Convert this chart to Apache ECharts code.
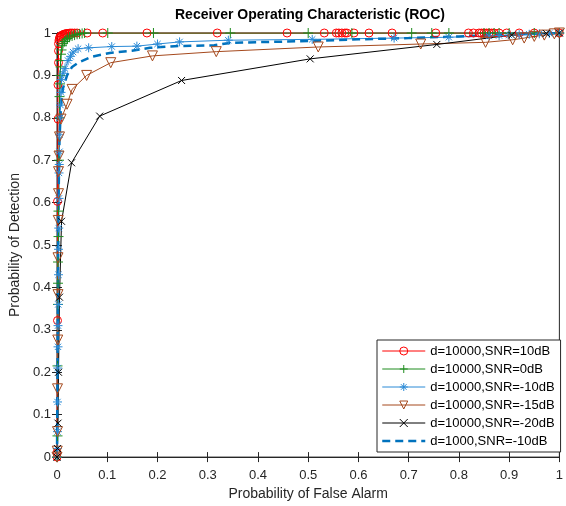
<!DOCTYPE html>
<html>
<head>
<meta charset="utf-8">
<script src="https://cdn.jsdelivr.net/npm/echarts@6/dist/echarts.min.js"></script>
<style>
  html, body { margin: 0; padding: 0; background: #fff; }
  #chart { width: 566px; height: 506px; }
</style>
</head>
<body>
<div id="chart"></div>
<script>
// ROC curves: false alarm prob (x) vs detection prob (y)
const axisTicks = [0, 0.1, 0.2, 0.3, 0.4, 0.5, 0.6, 0.7, 0.8, 0.9, 1]

const snr10Fa = [0, 0, 0.001, 0.001, 0.002, 0.002, 0.003, 0.003, 0.003, 0.004, 0.005, 0.006, 0.008, 0.01, 0.012, 0.014, 0.016, 0.018, 0.02, 0.023, 0.026, 0.03, 0.035, 0.04, 0.06, 0.091, 0.179, 0.319, 0.458, 0.532, 0.556, 0.561, 0.567, 0.573, 0.577, 0.591, 0.621, 0.667, 0.754, 0.819, 0.829, 0.84, 0.845, 0.85, 0.855, 0.86, 0.865, 0.87, 0.88, 0.895, 0.92, 0.95, 1]
const snr10Pd = [0, 0.01, 0.322, 0.603, 0.797, 0.878, 0.93, 0.958, 0.975, 0.983, 0.988, 0.991, 0.993, 0.995, 0.996, 0.997, 0.998, 0.998, 0.999, 0.999, 1, 1, 1, 1, 1, 1, 1, 1, 1, 1, 1, 1, 1, 1, 1, 1, 1, 1, 1, 1, 1, 1, 1, 1, 1, 1, 1, 1, 1, 1, 1, 1, 1]

const snr0Fa = [0, 0.001, 0.001, 0.002, 0.002, 0.002, 0.003, 0.003, 0.004, 0.005, 0.005, 0.006, 0.006, 0.007, 0.007, 0.008, 0.009, 0.01, 0.012, 0.015, 0.018, 0.021, 0.025, 0.03, 0.035, 0.04, 0.045, 0.05, 0.055, 0.101, 0.192, 0.345, 0.5, 0.587, 0.706, 0.746, 0.78, 0.85, 0.86, 0.87, 0.88, 0.9, 0.95, 1]
const snr0Pd = [0, 0.05, 0.215, 0.36, 0.41, 0.46, 0.52, 0.58, 0.7, 0.8, 0.85, 0.88, 0.9, 0.92, 0.935, 0.95, 0.96, 0.97, 0.975, 0.98, 0.984, 0.987, 0.99, 0.993, 0.995, 0.997, 0.998, 0.999, 1, 1, 1, 1, 1, 1, 1, 1, 1, 1, 1, 1, 1, 1, 1, 1]

const snrM10Fa = [0, 0.0005, 0.001, 0.001, 0.0015, 0.002, 0.002, 0.0025, 0.003, 0.003, 0.0035, 0.004, 0.004, 0.0045, 0.005, 0.005, 0.006, 0.007, 0.008, 0.009, 0.012, 0.016, 0.022, 0.027, 0.032, 0.042, 0.063, 0.109, 0.159, 0.2, 0.244, 0.341, 0.508, 0.671, 0.78, 0.86, 0.88, 0.9, 0.92, 0.94, 0.96, 0.98, 1]
const snrM10Pd = [0, 0.02, 0.06, 0.13, 0.21, 0.26, 0.31, 0.36, 0.43, 0.49, 0.54, 0.61, 0.67, 0.69, 0.72, 0.76, 0.8, 0.83, 0.86, 0.89, 0.905, 0.916, 0.935, 0.945, 0.955, 0.963, 0.965, 0.968, 0.969, 0.974, 0.979, 0.983, 0.985, 0.988, 0.99, 0.993, 0.994, 0.995, 0.996, 0.997, 0.998, 0.999, 1]

const snrM15Fa = [0, 0.0005, 0.001, 0.001, 0.0015, 0.002, 0.002, 0.0025, 0.003, 0.003, 0.004, 0.005, 0.008, 0.02, 0.03, 0.059, 0.107, 0.19, 0.317, 0.52, 0.724, 0.853, 0.907, 0.93, 0.95, 0.97, 0.99, 1]
const snrM15Pd = [0, 0.014, 0.06, 0.161, 0.276, 0.383, 0.47, 0.558, 0.621, 0.673, 0.71, 0.755, 0.797, 0.832, 0.867, 0.9, 0.93, 0.946, 0.956, 0.967, 0.974, 0.978, 0.984, 0.988, 0.992, 0.995, 0.998, 1]

const snrM20Fa = [0, 0.001, 0.002, 0.003, 0.005, 0.009, 0.029, 0.085, 0.248, 0.504, 0.756, 0.905, 0.974, 1]
const snrM20Pd = [0, 0.02, 0.08, 0.2, 0.377, 0.556, 0.694, 0.804, 0.888, 0.939, 0.973, 0.995, 0.999, 1]

const d1000Fa = [0, 0.001, 0.002, 0.003, 0.005, 0.008, 0.012, 0.02, 0.03, 0.042, 0.069, 0.105, 0.149, 0.185, 0.234, 0.313, 0.347, 0.5, 0.6, 0.7, 0.8, 0.9, 1]
const d1000Pd = [0, 0.2, 0.4, 0.6, 0.75, 0.83, 0.87, 0.9, 0.92, 0.93, 0.944, 0.953, 0.958, 0.965, 0.969, 0.971, 0.977, 0.981, 0.985, 0.988, 0.992, 0.996, 1]

const zip = (xs, ys) => xs.map((x, i) => [x, ys[i]])

const PLUS = 'path://M5,0L5,10M0,5L10,5'
const CROSS = 'path://M0,0L10,10M10,0L0,10'
const STAR = 'path://M5,0L5,10M0,5L10,5M1.5,1.5L8.5,8.5M8.5,1.5L1.5,8.5'
const TRI_DOWN = 'path://M0,0L10,0L5,9Z'

const lines = [
  { name: 'd=10000,SNR=10dB', fa: snr10Fa, pd: snr10Pd, color: '#ff0000', symbol: 'circle', size: 8 },
  { name: 'd=10000,SNR=0dB', fa: snr0Fa, pd: snr0Pd, color: '#1e8c1e', symbol: PLUS, size: 10 },
  { name: 'd=10000,SNR=-10dB', fa: snrM10Fa, pd: snrM10Pd, color: '#2a8ad6', symbol: STAR, size: 9 },
  { name: 'd=10000,SNR=-15dB', fa: snrM15Fa, pd: snrM15Pd, color: '#a5491d', symbol: TRI_DOWN, size: 10 },
  { name: 'd=10000,SNR=-20dB', fa: snrM20Fa, pd: snrM20Pd, color: '#000000', symbol: CROSS, size: 7 }
]

const hollow = c => ({ color: 'rgba(0,0,0,0)', borderColor: c, borderWidth: 1 })

const series = lines.map(l => ({
  name: l.name,
  type: 'line',
  data: zip(l.fa, l.pd),
  symbol: l.symbol,
  symbolSize: l.size,
  showSymbol: true,
  lineStyle: { color: l.color, width: 1 },
  itemStyle: hollow(l.color)
}))
series.push({
  name: 'd=1000,SNR=-10dB',
  type: 'line',
  data: zip(d1000Fa, d1000Pd),
  symbol: 'none',
  lineStyle: { color: '#0072bd', width: 2.5, type: [8, 5] },
  itemStyle: { color: '#0072bd' }
})

const legendData = lines.map(l => ({ name: l.name, itemStyle: hollow(l.color) }))
legendData.push({
  name: 'd=1000,SNR=-10dB',
  itemStyle: { opacity: 0 },
  lineStyle: { width: 2.5, type: [8, 5], color: '#0072bd' }
})

const chart = echarts.init(document.getElementById('chart'))

const font = 'Liberation Sans, Arial, sans-serif'

const option = {
  animation: false,
  title: {
    text: 'Receiver Operating Characteristic (ROC)',
    left: 310,
    top: 8,
    padding: 0,
    textAlign: 'center',
    textStyle: { fontSize: 14, fontWeight: 'bold', color: '#000', fontFamily: font }
  },
  grid: {
    left: 57,
    right: 4,
    top: 33,
    bottom: 45,
    show: true,
    borderColor: '#262626',
    borderWidth: 1
  },
  legend: {
    orient: 'vertical',
    left: 377,
    top: 340,
    data: legendData,
    itemWidth: 43,
    itemHeight: 10,
    itemGap: 4,
    padding: [4, 6, 4, 4],
    borderColor: '#262626',
    borderWidth: 1,
    backgroundColor: '#fff',
    lineStyle: { width: 1 },
    textStyle: { fontSize: 13, lineHeight: 14, color: '#000', fontFamily: font }
  },
  xAxis: [{
    type: 'value',
    min: 0,
    max: 1,
    interval: 0.1,
    name: 'Probability of False Alarm',
    nameLocation: 'middle',
    nameGap: 24,
    nameTextStyle: { fontSize: 14, color: '#262626', fontFamily: font },
    axisLine: { lineStyle: { color: '#262626' } },
    axisTick: { inside: true, length: 5, lineStyle: { color: '#262626' } },
    axisLabel: { margin: 12, color: '#262626', fontSize: 13, fontFamily: font },
    splitLine: { show: false }
  }, {
    type: 'value',
    position: 'top',
    min: 0,
    max: 1,
    interval: 0.1,
    axisLine: { lineStyle: { color: '#262626' } },
    axisTick: { inside: true, length: 5, lineStyle: { color: '#262626' } },
    axisLabel: { show: false },
    splitLine: { show: false }
  }],
  yAxis: [{
    type: 'value',
    min: 0,
    max: 1,
    interval: 0.1,
    name: 'Probability of Detection',
    nameLocation: 'middle',
    nameGap: 29,
    nameTextStyle: { fontSize: 14, color: '#262626', fontFamily: font },
    axisLine: { lineStyle: { color: '#262626' } },
    axisTick: { inside: true, length: 5, lineStyle: { color: '#262626' } },
    axisLabel: { margin: 6, color: '#262626', fontSize: 13, fontFamily: font },
    splitLine: { show: false }
  }, {
    type: 'value',
    position: 'right',
    min: 0,
    max: 1,
    interval: 0.1,
    axisLine: { lineStyle: { color: '#262626' } },
    axisTick: { inside: true, length: 5, lineStyle: { color: '#262626' } },
    axisLabel: { show: false },
    splitLine: { show: false }
  }],
  series: series
}

chart.setOption(option)
</script>
</body>
</html>
